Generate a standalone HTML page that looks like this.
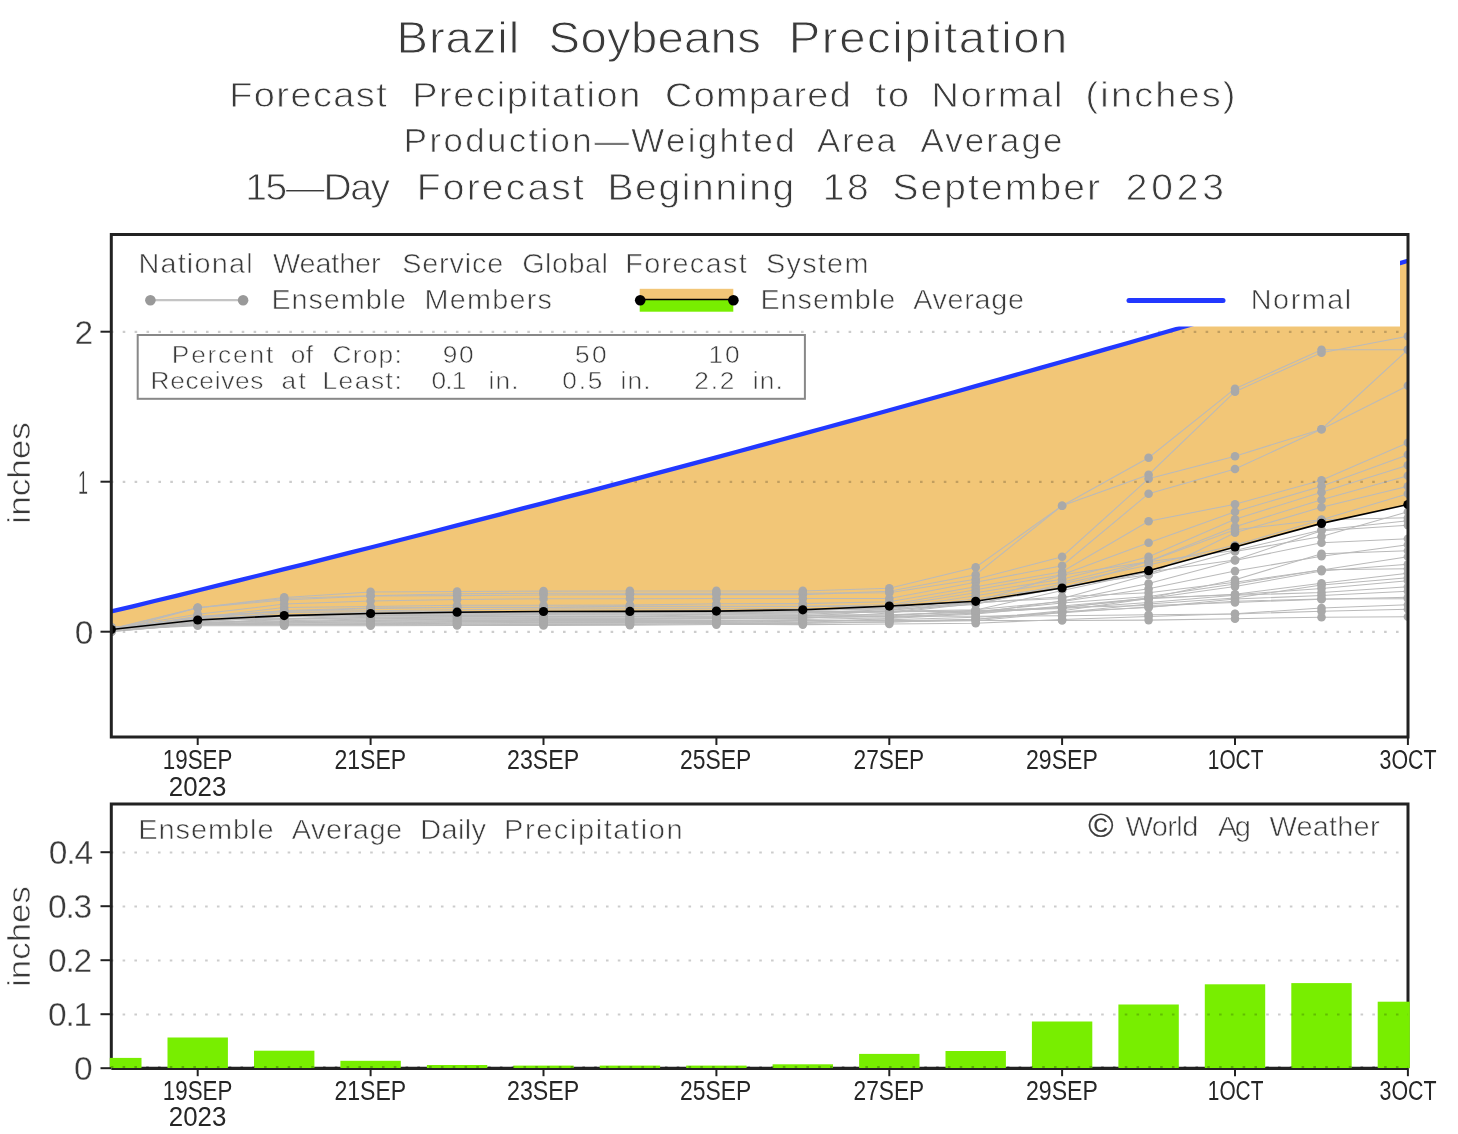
<!DOCTYPE html><html><head><meta charset="utf-8"><style>html,body{margin:0;padding:0;background:#fff;overflow:hidden}svg{display:block;will-change:transform}</style></head><body><svg width="1458" height="1134" viewBox="0 0 1458 1134" font-family="Liberation Sans, sans-serif">
<rect width="1458" height="1134" fill="#fff"/>
<text x="374.15" y="52.80" font-size="44.60" textLength="115.66" lengthAdjust="spacing" transform="scale(1.06,1)" fill="#3a3a3a" stroke="#fff" stroke-width="0.98">Brazil</text>
<text x="517.55" y="52.80" font-size="44.60" textLength="200.19" lengthAdjust="spacing" transform="scale(1.06,1)" fill="#3a3a3a" stroke="#fff" stroke-width="0.98">Soybeans</text>
<text x="744.15" y="52.80" font-size="44.60" textLength="262.83" lengthAdjust="spacing" transform="scale(1.06,1)" fill="#3a3a3a" stroke="#fff" stroke-width="0.98">Precipitation</text>
<text x="216.23" y="106.70" font-size="35.80" textLength="148.68" lengthAdjust="spacing" transform="scale(1.06,1)" fill="#3a3a3a" stroke="#fff" stroke-width="0.79">Forecast</text>
<text x="388.87" y="106.70" font-size="35.80" textLength="215.28" lengthAdjust="spacing" transform="scale(1.06,1)" fill="#3a3a3a" stroke="#fff" stroke-width="0.79">Precipitation</text>
<text x="627.36" y="106.70" font-size="35.80" textLength="175.28" lengthAdjust="spacing" transform="scale(1.06,1)" fill="#3a3a3a" stroke="#fff" stroke-width="0.79">Compared</text>
<text x="826.04" y="106.70" font-size="35.80" textLength="31.51" lengthAdjust="spacing" transform="scale(1.06,1)" fill="#3a3a3a" stroke="#fff" stroke-width="0.79">to</text>
<text x="878.87" y="106.70" font-size="35.80" textLength="123.40" lengthAdjust="spacing" transform="scale(1.06,1)" fill="#3a3a3a" stroke="#fff" stroke-width="0.79">Normal</text>
<text x="1024.15" y="106.70" font-size="35.80" textLength="141.32" lengthAdjust="spacing" transform="scale(1.06,1)" fill="#3a3a3a" stroke="#fff" stroke-width="0.79">(inches)</text>
<text x="380.94" y="152.40" font-size="32.90" textLength="368.68" lengthAdjust="spacing" transform="scale(1.06,1)" fill="#3a3a3a" stroke="#fff" stroke-width="0.72">Production—Weighted</text>
<text x="770.75" y="152.40" font-size="32.90" textLength="74.53" lengthAdjust="spacing" transform="scale(1.06,1)" fill="#3a3a3a" stroke="#fff" stroke-width="0.72">Area</text>
<text x="868.30" y="152.40" font-size="32.90" textLength="133.96" lengthAdjust="spacing" transform="scale(1.06,1)" fill="#3a3a3a" stroke="#fff" stroke-width="0.72">Average</text>
<text x="231.32" y="200.40" font-size="36.80" textLength="136.60" lengthAdjust="spacing" transform="scale(1.06,1)" fill="#3a3a3a" stroke="#fff" stroke-width="0.81">15—Day</text>
<text x="393.21" y="200.40" font-size="36.80" textLength="157.55" lengthAdjust="spacing" transform="scale(1.06,1)" fill="#3a3a3a" stroke="#fff" stroke-width="0.81">Forecast</text>
<text x="573.02" y="200.40" font-size="36.80" textLength="176.23" lengthAdjust="spacing" transform="scale(1.06,1)" fill="#3a3a3a" stroke="#fff" stroke-width="0.81">Beginning</text>
<text x="776.23" y="200.40" font-size="36.80" textLength="43.21" lengthAdjust="spacing" transform="scale(1.06,1)" fill="#3a3a3a" stroke="#fff" stroke-width="0.81">18</text>
<text x="841.89" y="200.40" font-size="36.80" textLength="195.85" lengthAdjust="spacing" transform="scale(1.06,1)" fill="#3a3a3a" stroke="#fff" stroke-width="0.81">September</text>
<text x="1062.08" y="200.40" font-size="36.80" textLength="92.64" lengthAdjust="spacing" transform="scale(1.06,1)" fill="#3a3a3a" stroke="#fff" stroke-width="0.81">2023</text>
<defs><clipPath id="cpt"><rect x="111.3" y="234.5" width="1296.7" height="502.5"/></clipPath><clipPath id="cpb"><rect x="111.3" y="804" width="1296.7" height="264.2"/></clipPath></defs>
<g clip-path="url(#cpt)">
<polygon fill="#F2C677" points="111.3,611.5 132.9,606.3 154.5,601.0 176.1,595.8 197.7,590.5 219.3,585.2 241.0,579.9 262.6,574.5 284.2,569.2 305.8,563.8 327.4,558.4 349.0,552.9 370.6,547.5 392.2,542.0 413.8,536.5 435.4,531.0 457.1,525.4 478.7,519.9 500.3,514.3 521.9,508.7 543.5,503.1 565.1,497.4 586.7,491.8 608.3,486.1 629.9,480.4 651.5,474.6 673.2,468.9 694.8,463.1 716.4,457.3 738.0,451.5 759.6,445.7 781.2,439.8 802.8,433.9 824.4,428.0 846.0,422.1 867.6,416.2 889.3,410.2 910.9,404.2 932.5,398.2 954.1,392.2 975.7,386.1 997.3,380.1 1018.9,374.0 1040.5,367.9 1062.1,361.7 1083.8,355.6 1105.4,349.4 1127.0,343.2 1148.6,337.0 1170.2,330.7 1191.8,324.5 1213.4,318.2 1235.0,311.9 1256.6,305.5 1278.2,299.2 1299.8,292.8 1321.5,286.4 1343.1,280.0 1364.7,273.6 1386.3,267.1 1407.9,260.7 1407.9,504.5 1321.5,523.4 1235.0,547.0 1148.6,570.7 1062.1,588.0 975.7,601.3 889.3,606.1 802.8,609.8 716.4,611.1 629.9,611.4 543.5,611.5 457.1,612.2 370.6,613.5 284.2,615.6 197.7,620.0 111.3,629.5"/>
<polyline fill="none" stroke="#bababa" stroke-width="1.05" points="111.3,628.7 197.7,607.7 284.2,597.4 370.6,591.9 457.1,591.5 543.5,591.1 629.9,590.9 716.4,590.9 802.8,590.9 889.3,588.2 975.7,567.2 1062.1,505.7 1148.6,474.7 1235.0,391.7 1321.5,352.7 1407.9,336.2"/>
<polyline fill="none" stroke="#bababa" stroke-width="1.05" points="111.3,631.4 197.7,607.7 284.2,600.1 370.6,596.0 457.1,595.6 543.5,594.9 629.9,594.6 716.4,594.6 802.8,594.6 889.3,591.2 975.7,574.7 1062.1,505.7 1148.6,457.7 1235.0,388.7 1321.5,349.7 1407.9,349.7"/>
<polyline fill="none" stroke="#bababa" stroke-width="1.05" points="111.3,629.6 197.7,607.7 284.2,598.5 370.6,595.7 457.1,593.7 543.5,593.2 629.9,593.2 716.4,593.2 802.8,593.2 889.3,592.7 975.7,579.2 1062.1,556.7 1148.6,478.7 1235.0,456.2 1321.5,429.2 1407.9,349.7"/>
<polyline fill="none" stroke="#bababa" stroke-width="1.05" points="111.3,628.3 197.7,614.3 284.2,604.1 370.6,601.0 457.1,599.5 543.5,598.8 629.9,598.8 716.4,598.5 802.8,598.5 889.3,598.5 975.7,582.2 1062.1,565.7 1148.6,493.7 1235.0,469.0 1321.5,429.2 1407.9,385.7"/>
<polyline fill="none" stroke="#bababa" stroke-width="1.05" points="111.3,628.4 197.7,617.4 284.2,607.6 370.6,606.6 457.1,605.3 543.5,605.3 629.9,605.1 716.4,603.7 802.8,603.6 889.3,601.7 975.7,586.7 1062.1,571.7 1148.6,521.2 1235.0,504.2 1321.5,480.2 1407.9,442.7"/>
<polyline fill="none" stroke="#bababa" stroke-width="1.05" points="111.3,627.7 197.7,617.9 284.2,610.6 370.6,607.9 457.1,607.4 543.5,607.4 629.9,606.3 716.4,606.3 802.8,606.3 889.3,604.7 975.7,589.7 1062.1,574.7 1148.6,542.8 1235.0,511.7 1321.5,486.2 1407.9,454.7"/>
<polyline fill="none" stroke="#bababa" stroke-width="1.05" points="111.3,630.2 197.7,617.1 284.2,611.6 370.6,608.6 457.1,607.2 543.5,607.2 629.9,606.7 716.4,606.7 802.8,606.4 889.3,606.2 975.7,592.7 1062.1,579.2 1148.6,556.7 1235.0,519.2 1321.5,492.2 1407.9,465.2"/>
<polyline fill="none" stroke="#bababa" stroke-width="1.05" points="111.3,629.5 197.7,616.3 284.2,610.9 370.6,610.7 457.1,609.7 543.5,609.0 629.9,608.7 716.4,608.7 802.8,608.7 889.3,608.7 975.7,595.7 1062.1,582.2 1148.6,561.2 1235.0,526.7 1321.5,499.7 1407.9,475.7"/>
<polyline fill="none" stroke="#bababa" stroke-width="1.05" points="111.3,627.5 197.7,620.4 284.2,612.6 370.6,611.9 457.1,611.6 543.5,611.5 629.9,611.5 716.4,611.5 802.8,609.7 889.3,609.7 975.7,598.7 1062.1,586.7 1148.6,574.7 1235.0,532.7 1321.5,507.2 1407.9,486.2"/>
<polyline fill="none" stroke="#bababa" stroke-width="1.05" points="111.3,630.6 197.7,622.2 284.2,620.8 370.6,619.1 457.1,618.7 543.5,618.7 629.9,618.7 716.4,617.7 802.8,617.7 889.3,615.9 975.7,610.1 1062.1,590.5 1148.6,572.1 1235.0,560.0 1321.5,530.7 1407.9,525.2"/>
<polyline fill="none" stroke="#bababa" stroke-width="1.05" points="111.3,631.6 197.7,624.2 284.2,622.8 370.6,622.1 457.1,621.6 543.5,621.3 629.9,620.9 716.4,620.9 802.8,620.8 889.3,619.8 975.7,617.3 1062.1,612.8 1148.6,607.1 1235.0,601.3 1321.5,599.0 1407.9,598.7"/>
<polyline fill="none" stroke="#bababa" stroke-width="1.05" points="111.3,631.6 197.7,618.5 284.2,616.8 370.6,615.6 457.1,615.6 543.5,615.0 629.9,614.9 716.4,614.3 802.8,614.3 889.3,611.2 975.7,609.8 1062.1,601.5 1148.6,588.7 1235.0,571.1 1321.5,556.3 1407.9,544.7"/>
<polyline fill="none" stroke="#bababa" stroke-width="1.05" points="111.3,628.3 197.7,622.3 284.2,621.8 370.6,620.5 457.1,619.9 543.5,619.5 629.9,619.5 716.4,618.9 802.8,618.4 889.3,612.9 975.7,603.4 1062.1,587.9 1148.6,561.4 1235.0,529.8 1321.5,519.7 1407.9,493.7"/>
<polyline fill="none" stroke="#bababa" stroke-width="1.05" points="111.3,629.7 197.7,625.0 284.2,625.0 370.6,625.0 457.1,624.7 543.5,624.5 629.9,624.4 716.4,623.5 802.8,623.5 889.3,621.8 975.7,620.7 1062.1,612.6 1148.6,604.1 1235.0,598.1 1321.5,585.1 1407.9,577.7"/>
<polyline fill="none" stroke="#bababa" stroke-width="1.05" points="111.3,629.1 197.7,624.2 284.2,624.2 370.6,623.4 457.1,622.9 543.5,622.4 629.9,622.4 716.4,622.4 802.8,621.0 889.3,621.0 975.7,619.2 1062.1,611.7 1148.6,607.4 1235.0,599.1 1321.5,595.5 1407.9,591.2"/>
<polyline fill="none" stroke="#bababa" stroke-width="1.05" points="111.3,628.1 197.7,620.7 284.2,618.9 370.6,618.7 457.1,618.0 543.5,618.0 629.9,618.0 716.4,617.4 802.8,616.4 889.3,610.4 975.7,601.8 1062.1,575.1 1148.6,561.8 1235.0,550.6 1321.5,529.9 1407.9,520.7"/>
<polyline fill="none" stroke="#bababa" stroke-width="1.05" points="111.3,630.7 197.7,620.4 284.2,615.7 370.6,614.7 457.1,614.1 543.5,613.5 629.9,612.9 716.4,612.9 802.8,612.9 889.3,611.9 975.7,602.5 1062.1,598.4 1148.6,574.7 1235.0,551.5 1321.5,536.6 1407.9,511.7"/>
<polyline fill="none" stroke="#bababa" stroke-width="1.05" points="111.3,631.6 197.7,624.2 284.2,622.2 370.6,621.5 457.1,620.6 543.5,620.6 629.9,620.6 716.4,620.6 802.8,619.6 889.3,617.8 975.7,612.9 1062.1,600.9 1148.6,583.6 1235.0,560.4 1321.5,542.8 1407.9,538.7"/>
<polyline fill="none" stroke="#bababa" stroke-width="1.05" points="111.3,629.6 197.7,623.4 284.2,619.6 370.6,617.3 457.1,616.6 543.5,616.6 629.9,616.6 716.4,616.3 802.8,615.4 889.3,614.7 975.7,611.7 1062.1,603.0 1148.6,596.5 1235.0,583.9 1321.5,569.8 1407.9,568.7"/>
<polyline fill="none" stroke="#bababa" stroke-width="1.05" points="111.3,628.1 197.7,622.6 284.2,621.6 370.6,620.0 457.1,619.3 543.5,618.8 629.9,618.8 716.4,618.6 802.8,617.6 889.3,616.8 975.7,612.9 1062.1,607.5 1148.6,598.8 1235.0,594.2 1321.5,583.3 1407.9,573.2"/>
<polyline fill="none" stroke="#bababa" stroke-width="1.05" points="111.3,628.8 197.7,617.1 284.2,615.1 370.6,612.3 457.1,611.8 543.5,611.3 629.9,611.3 716.4,610.8 802.8,610.8 889.3,607.9 975.7,602.9 1062.1,596.7 1148.6,592.7 1235.0,582.2 1321.5,569.9 1407.9,556.7"/>
<polyline fill="none" stroke="#bababa" stroke-width="1.05" points="111.3,629.5 197.7,624.2 284.2,624.1 370.6,624.1 457.1,623.3 543.5,623.3 629.9,623.2 716.4,622.3 802.8,622.3 889.3,622.3 975.7,619.5 1062.1,610.7 1148.6,598.6 1235.0,586.6 1321.5,571.1 1407.9,564.2"/>
<polyline fill="none" stroke="#bababa" stroke-width="1.05" points="111.3,627.4 197.7,622.1 284.2,616.2 370.6,614.0 457.1,613.4 543.5,612.9 629.9,612.7 716.4,612.6 802.8,611.7 889.3,611.7 975.7,611.3 1062.1,608.6 1148.6,602.6 1235.0,595.2 1321.5,592.6 1407.9,586.7"/>
<polyline fill="none" stroke="#bababa" stroke-width="1.05" points="111.3,627.3 197.7,620.2 284.2,616.5 370.6,615.6 457.1,614.7 543.5,614.4 629.9,614.1 716.4,614.1 802.8,612.7 889.3,609.8 975.7,604.6 1062.1,584.0 1148.6,565.0 1235.0,545.3 1321.5,519.7 1407.9,517.7"/>
<polyline fill="none" stroke="#bababa" stroke-width="1.05" points="111.3,629.5 197.7,624.4 284.2,624.4 370.6,624.4 457.1,624.2 543.5,623.9 629.9,623.9 716.4,623.6 802.8,622.5 889.3,618.5 975.7,613.9 1062.1,606.0 1148.6,598.3 1235.0,579.7 1321.5,553.8 1407.9,550.7"/>
<polyline fill="none" stroke="#bababa" stroke-width="1.05" points="111.3,629.9 197.7,625.7 284.2,625.7 370.6,625.7 457.1,625.4 543.5,625.4 629.9,625.2 716.4,624.6 802.8,624.6 889.3,624.0 975.7,623.2 1062.1,619.5 1148.6,616.5 1235.0,613.7 1321.5,608.1 1407.9,604.7"/>
<polyline fill="none" stroke="#bababa" stroke-width="1.05" points="111.3,630.0 197.7,624.2 284.2,623.3 370.6,622.7 457.1,622.2 543.5,621.8 629.9,621.5 716.4,621.4 802.8,620.4 889.3,620.4 975.7,620.4 1062.1,620.4 1148.6,620.1 1235.0,618.7 1321.5,617.2 1407.9,616.7"/>
<polyline fill="none" stroke="#bababa" stroke-width="1.05" points="111.3,630.3 197.7,619.0 284.2,618.5 370.6,616.3 457.1,615.9 543.5,615.9 629.9,615.9 716.4,614.9 802.8,614.9 889.3,614.9 975.7,612.0 1062.1,607.4 1148.6,598.1 1235.0,594.8 1321.5,588.4 1407.9,580.7"/>
<polyline fill="none" stroke="#bababa" stroke-width="1.05" points="111.3,631.6 197.7,623.7 284.2,618.7 370.6,617.7 457.1,617.2 543.5,617.2 629.9,616.9 716.4,616.2 802.8,616.2 889.3,616.2 975.7,616.2 1062.1,615.8 1148.6,614.8 1235.0,614.0 1321.5,611.2 1407.9,609.2"/>
<polyline fill="none" stroke="#bababa" stroke-width="1.05" points="111.3,629.1 197.7,621.3 284.2,615.7 370.6,613.6 457.1,612.5 543.5,612.0 629.9,611.6 716.4,611.6 802.8,611.6 889.3,611.6 975.7,610.7 1062.1,607.6 1148.6,605.5 1235.0,602.5 1321.5,599.2 1407.9,597.2"/>
<circle cx="111.3" cy="628.7" r="4.3" fill="#a9a9a9"/>
<circle cx="197.7" cy="607.7" r="4.3" fill="#a9a9a9"/>
<circle cx="284.2" cy="597.4" r="4.3" fill="#a9a9a9"/>
<circle cx="370.6" cy="591.9" r="4.3" fill="#a9a9a9"/>
<circle cx="457.1" cy="591.5" r="4.3" fill="#a9a9a9"/>
<circle cx="543.5" cy="591.1" r="4.3" fill="#a9a9a9"/>
<circle cx="629.9" cy="590.9" r="4.3" fill="#a9a9a9"/>
<circle cx="716.4" cy="590.9" r="4.3" fill="#a9a9a9"/>
<circle cx="802.8" cy="590.9" r="4.3" fill="#a9a9a9"/>
<circle cx="889.3" cy="588.2" r="4.3" fill="#a9a9a9"/>
<circle cx="975.7" cy="567.2" r="4.3" fill="#a9a9a9"/>
<circle cx="1062.1" cy="505.7" r="4.3" fill="#a9a9a9"/>
<circle cx="1148.6" cy="474.7" r="4.3" fill="#a9a9a9"/>
<circle cx="1235.0" cy="391.7" r="4.3" fill="#a9a9a9"/>
<circle cx="1321.5" cy="352.7" r="4.3" fill="#a9a9a9"/>
<circle cx="1407.9" cy="336.2" r="4.3" fill="#a9a9a9"/>
<circle cx="111.3" cy="631.4" r="4.3" fill="#a9a9a9"/>
<circle cx="197.7" cy="607.7" r="4.3" fill="#a9a9a9"/>
<circle cx="284.2" cy="600.1" r="4.3" fill="#a9a9a9"/>
<circle cx="370.6" cy="596.0" r="4.3" fill="#a9a9a9"/>
<circle cx="457.1" cy="595.6" r="4.3" fill="#a9a9a9"/>
<circle cx="543.5" cy="594.9" r="4.3" fill="#a9a9a9"/>
<circle cx="629.9" cy="594.6" r="4.3" fill="#a9a9a9"/>
<circle cx="716.4" cy="594.6" r="4.3" fill="#a9a9a9"/>
<circle cx="802.8" cy="594.6" r="4.3" fill="#a9a9a9"/>
<circle cx="889.3" cy="591.2" r="4.3" fill="#a9a9a9"/>
<circle cx="975.7" cy="574.7" r="4.3" fill="#a9a9a9"/>
<circle cx="1062.1" cy="505.7" r="4.3" fill="#a9a9a9"/>
<circle cx="1148.6" cy="457.7" r="4.3" fill="#a9a9a9"/>
<circle cx="1235.0" cy="388.7" r="4.3" fill="#a9a9a9"/>
<circle cx="1321.5" cy="349.7" r="4.3" fill="#a9a9a9"/>
<circle cx="1407.9" cy="349.7" r="4.3" fill="#a9a9a9"/>
<circle cx="111.3" cy="629.6" r="4.3" fill="#a9a9a9"/>
<circle cx="197.7" cy="607.7" r="4.3" fill="#a9a9a9"/>
<circle cx="284.2" cy="598.5" r="4.3" fill="#a9a9a9"/>
<circle cx="370.6" cy="595.7" r="4.3" fill="#a9a9a9"/>
<circle cx="457.1" cy="593.7" r="4.3" fill="#a9a9a9"/>
<circle cx="543.5" cy="593.2" r="4.3" fill="#a9a9a9"/>
<circle cx="629.9" cy="593.2" r="4.3" fill="#a9a9a9"/>
<circle cx="716.4" cy="593.2" r="4.3" fill="#a9a9a9"/>
<circle cx="802.8" cy="593.2" r="4.3" fill="#a9a9a9"/>
<circle cx="889.3" cy="592.7" r="4.3" fill="#a9a9a9"/>
<circle cx="975.7" cy="579.2" r="4.3" fill="#a9a9a9"/>
<circle cx="1062.1" cy="556.7" r="4.3" fill="#a9a9a9"/>
<circle cx="1148.6" cy="478.7" r="4.3" fill="#a9a9a9"/>
<circle cx="1235.0" cy="456.2" r="4.3" fill="#a9a9a9"/>
<circle cx="1321.5" cy="429.2" r="4.3" fill="#a9a9a9"/>
<circle cx="1407.9" cy="349.7" r="4.3" fill="#a9a9a9"/>
<circle cx="111.3" cy="628.3" r="4.3" fill="#a9a9a9"/>
<circle cx="197.7" cy="614.3" r="4.3" fill="#a9a9a9"/>
<circle cx="284.2" cy="604.1" r="4.3" fill="#a9a9a9"/>
<circle cx="370.6" cy="601.0" r="4.3" fill="#a9a9a9"/>
<circle cx="457.1" cy="599.5" r="4.3" fill="#a9a9a9"/>
<circle cx="543.5" cy="598.8" r="4.3" fill="#a9a9a9"/>
<circle cx="629.9" cy="598.8" r="4.3" fill="#a9a9a9"/>
<circle cx="716.4" cy="598.5" r="4.3" fill="#a9a9a9"/>
<circle cx="802.8" cy="598.5" r="4.3" fill="#a9a9a9"/>
<circle cx="889.3" cy="598.5" r="4.3" fill="#a9a9a9"/>
<circle cx="975.7" cy="582.2" r="4.3" fill="#a9a9a9"/>
<circle cx="1062.1" cy="565.7" r="4.3" fill="#a9a9a9"/>
<circle cx="1148.6" cy="493.7" r="4.3" fill="#a9a9a9"/>
<circle cx="1235.0" cy="469.0" r="4.3" fill="#a9a9a9"/>
<circle cx="1321.5" cy="429.2" r="4.3" fill="#a9a9a9"/>
<circle cx="1407.9" cy="385.7" r="4.3" fill="#a9a9a9"/>
<circle cx="111.3" cy="628.4" r="4.3" fill="#a9a9a9"/>
<circle cx="197.7" cy="617.4" r="4.3" fill="#a9a9a9"/>
<circle cx="284.2" cy="607.6" r="4.3" fill="#a9a9a9"/>
<circle cx="370.6" cy="606.6" r="4.3" fill="#a9a9a9"/>
<circle cx="457.1" cy="605.3" r="4.3" fill="#a9a9a9"/>
<circle cx="543.5" cy="605.3" r="4.3" fill="#a9a9a9"/>
<circle cx="629.9" cy="605.1" r="4.3" fill="#a9a9a9"/>
<circle cx="716.4" cy="603.7" r="4.3" fill="#a9a9a9"/>
<circle cx="802.8" cy="603.6" r="4.3" fill="#a9a9a9"/>
<circle cx="889.3" cy="601.7" r="4.3" fill="#a9a9a9"/>
<circle cx="975.7" cy="586.7" r="4.3" fill="#a9a9a9"/>
<circle cx="1062.1" cy="571.7" r="4.3" fill="#a9a9a9"/>
<circle cx="1148.6" cy="521.2" r="4.3" fill="#a9a9a9"/>
<circle cx="1235.0" cy="504.2" r="4.3" fill="#a9a9a9"/>
<circle cx="1321.5" cy="480.2" r="4.3" fill="#a9a9a9"/>
<circle cx="1407.9" cy="442.7" r="4.3" fill="#a9a9a9"/>
<circle cx="111.3" cy="627.7" r="4.3" fill="#a9a9a9"/>
<circle cx="197.7" cy="617.9" r="4.3" fill="#a9a9a9"/>
<circle cx="284.2" cy="610.6" r="4.3" fill="#a9a9a9"/>
<circle cx="370.6" cy="607.9" r="4.3" fill="#a9a9a9"/>
<circle cx="457.1" cy="607.4" r="4.3" fill="#a9a9a9"/>
<circle cx="543.5" cy="607.4" r="4.3" fill="#a9a9a9"/>
<circle cx="629.9" cy="606.3" r="4.3" fill="#a9a9a9"/>
<circle cx="716.4" cy="606.3" r="4.3" fill="#a9a9a9"/>
<circle cx="802.8" cy="606.3" r="4.3" fill="#a9a9a9"/>
<circle cx="889.3" cy="604.7" r="4.3" fill="#a9a9a9"/>
<circle cx="975.7" cy="589.7" r="4.3" fill="#a9a9a9"/>
<circle cx="1062.1" cy="574.7" r="4.3" fill="#a9a9a9"/>
<circle cx="1148.6" cy="542.8" r="4.3" fill="#a9a9a9"/>
<circle cx="1235.0" cy="511.7" r="4.3" fill="#a9a9a9"/>
<circle cx="1321.5" cy="486.2" r="4.3" fill="#a9a9a9"/>
<circle cx="1407.9" cy="454.7" r="4.3" fill="#a9a9a9"/>
<circle cx="111.3" cy="630.2" r="4.3" fill="#a9a9a9"/>
<circle cx="197.7" cy="617.1" r="4.3" fill="#a9a9a9"/>
<circle cx="284.2" cy="611.6" r="4.3" fill="#a9a9a9"/>
<circle cx="370.6" cy="608.6" r="4.3" fill="#a9a9a9"/>
<circle cx="457.1" cy="607.2" r="4.3" fill="#a9a9a9"/>
<circle cx="543.5" cy="607.2" r="4.3" fill="#a9a9a9"/>
<circle cx="629.9" cy="606.7" r="4.3" fill="#a9a9a9"/>
<circle cx="716.4" cy="606.7" r="4.3" fill="#a9a9a9"/>
<circle cx="802.8" cy="606.4" r="4.3" fill="#a9a9a9"/>
<circle cx="889.3" cy="606.2" r="4.3" fill="#a9a9a9"/>
<circle cx="975.7" cy="592.7" r="4.3" fill="#a9a9a9"/>
<circle cx="1062.1" cy="579.2" r="4.3" fill="#a9a9a9"/>
<circle cx="1148.6" cy="556.7" r="4.3" fill="#a9a9a9"/>
<circle cx="1235.0" cy="519.2" r="4.3" fill="#a9a9a9"/>
<circle cx="1321.5" cy="492.2" r="4.3" fill="#a9a9a9"/>
<circle cx="1407.9" cy="465.2" r="4.3" fill="#a9a9a9"/>
<circle cx="111.3" cy="629.5" r="4.3" fill="#a9a9a9"/>
<circle cx="197.7" cy="616.3" r="4.3" fill="#a9a9a9"/>
<circle cx="284.2" cy="610.9" r="4.3" fill="#a9a9a9"/>
<circle cx="370.6" cy="610.7" r="4.3" fill="#a9a9a9"/>
<circle cx="457.1" cy="609.7" r="4.3" fill="#a9a9a9"/>
<circle cx="543.5" cy="609.0" r="4.3" fill="#a9a9a9"/>
<circle cx="629.9" cy="608.7" r="4.3" fill="#a9a9a9"/>
<circle cx="716.4" cy="608.7" r="4.3" fill="#a9a9a9"/>
<circle cx="802.8" cy="608.7" r="4.3" fill="#a9a9a9"/>
<circle cx="889.3" cy="608.7" r="4.3" fill="#a9a9a9"/>
<circle cx="975.7" cy="595.7" r="4.3" fill="#a9a9a9"/>
<circle cx="1062.1" cy="582.2" r="4.3" fill="#a9a9a9"/>
<circle cx="1148.6" cy="561.2" r="4.3" fill="#a9a9a9"/>
<circle cx="1235.0" cy="526.7" r="4.3" fill="#a9a9a9"/>
<circle cx="1321.5" cy="499.7" r="4.3" fill="#a9a9a9"/>
<circle cx="1407.9" cy="475.7" r="4.3" fill="#a9a9a9"/>
<circle cx="111.3" cy="627.5" r="4.3" fill="#a9a9a9"/>
<circle cx="197.7" cy="620.4" r="4.3" fill="#a9a9a9"/>
<circle cx="284.2" cy="612.6" r="4.3" fill="#a9a9a9"/>
<circle cx="370.6" cy="611.9" r="4.3" fill="#a9a9a9"/>
<circle cx="457.1" cy="611.6" r="4.3" fill="#a9a9a9"/>
<circle cx="543.5" cy="611.5" r="4.3" fill="#a9a9a9"/>
<circle cx="629.9" cy="611.5" r="4.3" fill="#a9a9a9"/>
<circle cx="716.4" cy="611.5" r="4.3" fill="#a9a9a9"/>
<circle cx="802.8" cy="609.7" r="4.3" fill="#a9a9a9"/>
<circle cx="889.3" cy="609.7" r="4.3" fill="#a9a9a9"/>
<circle cx="975.7" cy="598.7" r="4.3" fill="#a9a9a9"/>
<circle cx="1062.1" cy="586.7" r="4.3" fill="#a9a9a9"/>
<circle cx="1148.6" cy="574.7" r="4.3" fill="#a9a9a9"/>
<circle cx="1235.0" cy="532.7" r="4.3" fill="#a9a9a9"/>
<circle cx="1321.5" cy="507.2" r="4.3" fill="#a9a9a9"/>
<circle cx="1407.9" cy="486.2" r="4.3" fill="#a9a9a9"/>
<circle cx="111.3" cy="630.6" r="4.3" fill="#a9a9a9"/>
<circle cx="197.7" cy="622.2" r="4.3" fill="#a9a9a9"/>
<circle cx="284.2" cy="620.8" r="4.3" fill="#a9a9a9"/>
<circle cx="370.6" cy="619.1" r="4.3" fill="#a9a9a9"/>
<circle cx="457.1" cy="618.7" r="4.3" fill="#a9a9a9"/>
<circle cx="543.5" cy="618.7" r="4.3" fill="#a9a9a9"/>
<circle cx="629.9" cy="618.7" r="4.3" fill="#a9a9a9"/>
<circle cx="716.4" cy="617.7" r="4.3" fill="#a9a9a9"/>
<circle cx="802.8" cy="617.7" r="4.3" fill="#a9a9a9"/>
<circle cx="889.3" cy="615.9" r="4.3" fill="#a9a9a9"/>
<circle cx="975.7" cy="610.1" r="4.3" fill="#a9a9a9"/>
<circle cx="1062.1" cy="590.5" r="4.3" fill="#a9a9a9"/>
<circle cx="1148.6" cy="572.1" r="4.3" fill="#a9a9a9"/>
<circle cx="1235.0" cy="560.0" r="4.3" fill="#a9a9a9"/>
<circle cx="1321.5" cy="530.7" r="4.3" fill="#a9a9a9"/>
<circle cx="1407.9" cy="525.2" r="4.3" fill="#a9a9a9"/>
<circle cx="111.3" cy="631.6" r="4.3" fill="#a9a9a9"/>
<circle cx="197.7" cy="624.2" r="4.3" fill="#a9a9a9"/>
<circle cx="284.2" cy="622.8" r="4.3" fill="#a9a9a9"/>
<circle cx="370.6" cy="622.1" r="4.3" fill="#a9a9a9"/>
<circle cx="457.1" cy="621.6" r="4.3" fill="#a9a9a9"/>
<circle cx="543.5" cy="621.3" r="4.3" fill="#a9a9a9"/>
<circle cx="629.9" cy="620.9" r="4.3" fill="#a9a9a9"/>
<circle cx="716.4" cy="620.9" r="4.3" fill="#a9a9a9"/>
<circle cx="802.8" cy="620.8" r="4.3" fill="#a9a9a9"/>
<circle cx="889.3" cy="619.8" r="4.3" fill="#a9a9a9"/>
<circle cx="975.7" cy="617.3" r="4.3" fill="#a9a9a9"/>
<circle cx="1062.1" cy="612.8" r="4.3" fill="#a9a9a9"/>
<circle cx="1148.6" cy="607.1" r="4.3" fill="#a9a9a9"/>
<circle cx="1235.0" cy="601.3" r="4.3" fill="#a9a9a9"/>
<circle cx="1321.5" cy="599.0" r="4.3" fill="#a9a9a9"/>
<circle cx="1407.9" cy="598.7" r="4.3" fill="#a9a9a9"/>
<circle cx="111.3" cy="631.6" r="4.3" fill="#a9a9a9"/>
<circle cx="197.7" cy="618.5" r="4.3" fill="#a9a9a9"/>
<circle cx="284.2" cy="616.8" r="4.3" fill="#a9a9a9"/>
<circle cx="370.6" cy="615.6" r="4.3" fill="#a9a9a9"/>
<circle cx="457.1" cy="615.6" r="4.3" fill="#a9a9a9"/>
<circle cx="543.5" cy="615.0" r="4.3" fill="#a9a9a9"/>
<circle cx="629.9" cy="614.9" r="4.3" fill="#a9a9a9"/>
<circle cx="716.4" cy="614.3" r="4.3" fill="#a9a9a9"/>
<circle cx="802.8" cy="614.3" r="4.3" fill="#a9a9a9"/>
<circle cx="889.3" cy="611.2" r="4.3" fill="#a9a9a9"/>
<circle cx="975.7" cy="609.8" r="4.3" fill="#a9a9a9"/>
<circle cx="1062.1" cy="601.5" r="4.3" fill="#a9a9a9"/>
<circle cx="1148.6" cy="588.7" r="4.3" fill="#a9a9a9"/>
<circle cx="1235.0" cy="571.1" r="4.3" fill="#a9a9a9"/>
<circle cx="1321.5" cy="556.3" r="4.3" fill="#a9a9a9"/>
<circle cx="1407.9" cy="544.7" r="4.3" fill="#a9a9a9"/>
<circle cx="111.3" cy="628.3" r="4.3" fill="#a9a9a9"/>
<circle cx="197.7" cy="622.3" r="4.3" fill="#a9a9a9"/>
<circle cx="284.2" cy="621.8" r="4.3" fill="#a9a9a9"/>
<circle cx="370.6" cy="620.5" r="4.3" fill="#a9a9a9"/>
<circle cx="457.1" cy="619.9" r="4.3" fill="#a9a9a9"/>
<circle cx="543.5" cy="619.5" r="4.3" fill="#a9a9a9"/>
<circle cx="629.9" cy="619.5" r="4.3" fill="#a9a9a9"/>
<circle cx="716.4" cy="618.9" r="4.3" fill="#a9a9a9"/>
<circle cx="802.8" cy="618.4" r="4.3" fill="#a9a9a9"/>
<circle cx="889.3" cy="612.9" r="4.3" fill="#a9a9a9"/>
<circle cx="975.7" cy="603.4" r="4.3" fill="#a9a9a9"/>
<circle cx="1062.1" cy="587.9" r="4.3" fill="#a9a9a9"/>
<circle cx="1148.6" cy="561.4" r="4.3" fill="#a9a9a9"/>
<circle cx="1235.0" cy="529.8" r="4.3" fill="#a9a9a9"/>
<circle cx="1321.5" cy="519.7" r="4.3" fill="#a9a9a9"/>
<circle cx="1407.9" cy="493.7" r="4.3" fill="#a9a9a9"/>
<circle cx="111.3" cy="629.7" r="4.3" fill="#a9a9a9"/>
<circle cx="197.7" cy="625.0" r="4.3" fill="#a9a9a9"/>
<circle cx="284.2" cy="625.0" r="4.3" fill="#a9a9a9"/>
<circle cx="370.6" cy="625.0" r="4.3" fill="#a9a9a9"/>
<circle cx="457.1" cy="624.7" r="4.3" fill="#a9a9a9"/>
<circle cx="543.5" cy="624.5" r="4.3" fill="#a9a9a9"/>
<circle cx="629.9" cy="624.4" r="4.3" fill="#a9a9a9"/>
<circle cx="716.4" cy="623.5" r="4.3" fill="#a9a9a9"/>
<circle cx="802.8" cy="623.5" r="4.3" fill="#a9a9a9"/>
<circle cx="889.3" cy="621.8" r="4.3" fill="#a9a9a9"/>
<circle cx="975.7" cy="620.7" r="4.3" fill="#a9a9a9"/>
<circle cx="1062.1" cy="612.6" r="4.3" fill="#a9a9a9"/>
<circle cx="1148.6" cy="604.1" r="4.3" fill="#a9a9a9"/>
<circle cx="1235.0" cy="598.1" r="4.3" fill="#a9a9a9"/>
<circle cx="1321.5" cy="585.1" r="4.3" fill="#a9a9a9"/>
<circle cx="1407.9" cy="577.7" r="4.3" fill="#a9a9a9"/>
<circle cx="111.3" cy="629.1" r="4.3" fill="#a9a9a9"/>
<circle cx="197.7" cy="624.2" r="4.3" fill="#a9a9a9"/>
<circle cx="284.2" cy="624.2" r="4.3" fill="#a9a9a9"/>
<circle cx="370.6" cy="623.4" r="4.3" fill="#a9a9a9"/>
<circle cx="457.1" cy="622.9" r="4.3" fill="#a9a9a9"/>
<circle cx="543.5" cy="622.4" r="4.3" fill="#a9a9a9"/>
<circle cx="629.9" cy="622.4" r="4.3" fill="#a9a9a9"/>
<circle cx="716.4" cy="622.4" r="4.3" fill="#a9a9a9"/>
<circle cx="802.8" cy="621.0" r="4.3" fill="#a9a9a9"/>
<circle cx="889.3" cy="621.0" r="4.3" fill="#a9a9a9"/>
<circle cx="975.7" cy="619.2" r="4.3" fill="#a9a9a9"/>
<circle cx="1062.1" cy="611.7" r="4.3" fill="#a9a9a9"/>
<circle cx="1148.6" cy="607.4" r="4.3" fill="#a9a9a9"/>
<circle cx="1235.0" cy="599.1" r="4.3" fill="#a9a9a9"/>
<circle cx="1321.5" cy="595.5" r="4.3" fill="#a9a9a9"/>
<circle cx="1407.9" cy="591.2" r="4.3" fill="#a9a9a9"/>
<circle cx="111.3" cy="628.1" r="4.3" fill="#a9a9a9"/>
<circle cx="197.7" cy="620.7" r="4.3" fill="#a9a9a9"/>
<circle cx="284.2" cy="618.9" r="4.3" fill="#a9a9a9"/>
<circle cx="370.6" cy="618.7" r="4.3" fill="#a9a9a9"/>
<circle cx="457.1" cy="618.0" r="4.3" fill="#a9a9a9"/>
<circle cx="543.5" cy="618.0" r="4.3" fill="#a9a9a9"/>
<circle cx="629.9" cy="618.0" r="4.3" fill="#a9a9a9"/>
<circle cx="716.4" cy="617.4" r="4.3" fill="#a9a9a9"/>
<circle cx="802.8" cy="616.4" r="4.3" fill="#a9a9a9"/>
<circle cx="889.3" cy="610.4" r="4.3" fill="#a9a9a9"/>
<circle cx="975.7" cy="601.8" r="4.3" fill="#a9a9a9"/>
<circle cx="1062.1" cy="575.1" r="4.3" fill="#a9a9a9"/>
<circle cx="1148.6" cy="561.8" r="4.3" fill="#a9a9a9"/>
<circle cx="1235.0" cy="550.6" r="4.3" fill="#a9a9a9"/>
<circle cx="1321.5" cy="529.9" r="4.3" fill="#a9a9a9"/>
<circle cx="1407.9" cy="520.7" r="4.3" fill="#a9a9a9"/>
<circle cx="111.3" cy="630.7" r="4.3" fill="#a9a9a9"/>
<circle cx="197.7" cy="620.4" r="4.3" fill="#a9a9a9"/>
<circle cx="284.2" cy="615.7" r="4.3" fill="#a9a9a9"/>
<circle cx="370.6" cy="614.7" r="4.3" fill="#a9a9a9"/>
<circle cx="457.1" cy="614.1" r="4.3" fill="#a9a9a9"/>
<circle cx="543.5" cy="613.5" r="4.3" fill="#a9a9a9"/>
<circle cx="629.9" cy="612.9" r="4.3" fill="#a9a9a9"/>
<circle cx="716.4" cy="612.9" r="4.3" fill="#a9a9a9"/>
<circle cx="802.8" cy="612.9" r="4.3" fill="#a9a9a9"/>
<circle cx="889.3" cy="611.9" r="4.3" fill="#a9a9a9"/>
<circle cx="975.7" cy="602.5" r="4.3" fill="#a9a9a9"/>
<circle cx="1062.1" cy="598.4" r="4.3" fill="#a9a9a9"/>
<circle cx="1148.6" cy="574.7" r="4.3" fill="#a9a9a9"/>
<circle cx="1235.0" cy="551.5" r="4.3" fill="#a9a9a9"/>
<circle cx="1321.5" cy="536.6" r="4.3" fill="#a9a9a9"/>
<circle cx="1407.9" cy="511.7" r="4.3" fill="#a9a9a9"/>
<circle cx="111.3" cy="631.6" r="4.3" fill="#a9a9a9"/>
<circle cx="197.7" cy="624.2" r="4.3" fill="#a9a9a9"/>
<circle cx="284.2" cy="622.2" r="4.3" fill="#a9a9a9"/>
<circle cx="370.6" cy="621.5" r="4.3" fill="#a9a9a9"/>
<circle cx="457.1" cy="620.6" r="4.3" fill="#a9a9a9"/>
<circle cx="543.5" cy="620.6" r="4.3" fill="#a9a9a9"/>
<circle cx="629.9" cy="620.6" r="4.3" fill="#a9a9a9"/>
<circle cx="716.4" cy="620.6" r="4.3" fill="#a9a9a9"/>
<circle cx="802.8" cy="619.6" r="4.3" fill="#a9a9a9"/>
<circle cx="889.3" cy="617.8" r="4.3" fill="#a9a9a9"/>
<circle cx="975.7" cy="612.9" r="4.3" fill="#a9a9a9"/>
<circle cx="1062.1" cy="600.9" r="4.3" fill="#a9a9a9"/>
<circle cx="1148.6" cy="583.6" r="4.3" fill="#a9a9a9"/>
<circle cx="1235.0" cy="560.4" r="4.3" fill="#a9a9a9"/>
<circle cx="1321.5" cy="542.8" r="4.3" fill="#a9a9a9"/>
<circle cx="1407.9" cy="538.7" r="4.3" fill="#a9a9a9"/>
<circle cx="111.3" cy="629.6" r="4.3" fill="#a9a9a9"/>
<circle cx="197.7" cy="623.4" r="4.3" fill="#a9a9a9"/>
<circle cx="284.2" cy="619.6" r="4.3" fill="#a9a9a9"/>
<circle cx="370.6" cy="617.3" r="4.3" fill="#a9a9a9"/>
<circle cx="457.1" cy="616.6" r="4.3" fill="#a9a9a9"/>
<circle cx="543.5" cy="616.6" r="4.3" fill="#a9a9a9"/>
<circle cx="629.9" cy="616.6" r="4.3" fill="#a9a9a9"/>
<circle cx="716.4" cy="616.3" r="4.3" fill="#a9a9a9"/>
<circle cx="802.8" cy="615.4" r="4.3" fill="#a9a9a9"/>
<circle cx="889.3" cy="614.7" r="4.3" fill="#a9a9a9"/>
<circle cx="975.7" cy="611.7" r="4.3" fill="#a9a9a9"/>
<circle cx="1062.1" cy="603.0" r="4.3" fill="#a9a9a9"/>
<circle cx="1148.6" cy="596.5" r="4.3" fill="#a9a9a9"/>
<circle cx="1235.0" cy="583.9" r="4.3" fill="#a9a9a9"/>
<circle cx="1321.5" cy="569.8" r="4.3" fill="#a9a9a9"/>
<circle cx="1407.9" cy="568.7" r="4.3" fill="#a9a9a9"/>
<circle cx="111.3" cy="628.1" r="4.3" fill="#a9a9a9"/>
<circle cx="197.7" cy="622.6" r="4.3" fill="#a9a9a9"/>
<circle cx="284.2" cy="621.6" r="4.3" fill="#a9a9a9"/>
<circle cx="370.6" cy="620.0" r="4.3" fill="#a9a9a9"/>
<circle cx="457.1" cy="619.3" r="4.3" fill="#a9a9a9"/>
<circle cx="543.5" cy="618.8" r="4.3" fill="#a9a9a9"/>
<circle cx="629.9" cy="618.8" r="4.3" fill="#a9a9a9"/>
<circle cx="716.4" cy="618.6" r="4.3" fill="#a9a9a9"/>
<circle cx="802.8" cy="617.6" r="4.3" fill="#a9a9a9"/>
<circle cx="889.3" cy="616.8" r="4.3" fill="#a9a9a9"/>
<circle cx="975.7" cy="612.9" r="4.3" fill="#a9a9a9"/>
<circle cx="1062.1" cy="607.5" r="4.3" fill="#a9a9a9"/>
<circle cx="1148.6" cy="598.8" r="4.3" fill="#a9a9a9"/>
<circle cx="1235.0" cy="594.2" r="4.3" fill="#a9a9a9"/>
<circle cx="1321.5" cy="583.3" r="4.3" fill="#a9a9a9"/>
<circle cx="1407.9" cy="573.2" r="4.3" fill="#a9a9a9"/>
<circle cx="111.3" cy="628.8" r="4.3" fill="#a9a9a9"/>
<circle cx="197.7" cy="617.1" r="4.3" fill="#a9a9a9"/>
<circle cx="284.2" cy="615.1" r="4.3" fill="#a9a9a9"/>
<circle cx="370.6" cy="612.3" r="4.3" fill="#a9a9a9"/>
<circle cx="457.1" cy="611.8" r="4.3" fill="#a9a9a9"/>
<circle cx="543.5" cy="611.3" r="4.3" fill="#a9a9a9"/>
<circle cx="629.9" cy="611.3" r="4.3" fill="#a9a9a9"/>
<circle cx="716.4" cy="610.8" r="4.3" fill="#a9a9a9"/>
<circle cx="802.8" cy="610.8" r="4.3" fill="#a9a9a9"/>
<circle cx="889.3" cy="607.9" r="4.3" fill="#a9a9a9"/>
<circle cx="975.7" cy="602.9" r="4.3" fill="#a9a9a9"/>
<circle cx="1062.1" cy="596.7" r="4.3" fill="#a9a9a9"/>
<circle cx="1148.6" cy="592.7" r="4.3" fill="#a9a9a9"/>
<circle cx="1235.0" cy="582.2" r="4.3" fill="#a9a9a9"/>
<circle cx="1321.5" cy="569.9" r="4.3" fill="#a9a9a9"/>
<circle cx="1407.9" cy="556.7" r="4.3" fill="#a9a9a9"/>
<circle cx="111.3" cy="629.5" r="4.3" fill="#a9a9a9"/>
<circle cx="197.7" cy="624.2" r="4.3" fill="#a9a9a9"/>
<circle cx="284.2" cy="624.1" r="4.3" fill="#a9a9a9"/>
<circle cx="370.6" cy="624.1" r="4.3" fill="#a9a9a9"/>
<circle cx="457.1" cy="623.3" r="4.3" fill="#a9a9a9"/>
<circle cx="543.5" cy="623.3" r="4.3" fill="#a9a9a9"/>
<circle cx="629.9" cy="623.2" r="4.3" fill="#a9a9a9"/>
<circle cx="716.4" cy="622.3" r="4.3" fill="#a9a9a9"/>
<circle cx="802.8" cy="622.3" r="4.3" fill="#a9a9a9"/>
<circle cx="889.3" cy="622.3" r="4.3" fill="#a9a9a9"/>
<circle cx="975.7" cy="619.5" r="4.3" fill="#a9a9a9"/>
<circle cx="1062.1" cy="610.7" r="4.3" fill="#a9a9a9"/>
<circle cx="1148.6" cy="598.6" r="4.3" fill="#a9a9a9"/>
<circle cx="1235.0" cy="586.6" r="4.3" fill="#a9a9a9"/>
<circle cx="1321.5" cy="571.1" r="4.3" fill="#a9a9a9"/>
<circle cx="1407.9" cy="564.2" r="4.3" fill="#a9a9a9"/>
<circle cx="111.3" cy="627.4" r="4.3" fill="#a9a9a9"/>
<circle cx="197.7" cy="622.1" r="4.3" fill="#a9a9a9"/>
<circle cx="284.2" cy="616.2" r="4.3" fill="#a9a9a9"/>
<circle cx="370.6" cy="614.0" r="4.3" fill="#a9a9a9"/>
<circle cx="457.1" cy="613.4" r="4.3" fill="#a9a9a9"/>
<circle cx="543.5" cy="612.9" r="4.3" fill="#a9a9a9"/>
<circle cx="629.9" cy="612.7" r="4.3" fill="#a9a9a9"/>
<circle cx="716.4" cy="612.6" r="4.3" fill="#a9a9a9"/>
<circle cx="802.8" cy="611.7" r="4.3" fill="#a9a9a9"/>
<circle cx="889.3" cy="611.7" r="4.3" fill="#a9a9a9"/>
<circle cx="975.7" cy="611.3" r="4.3" fill="#a9a9a9"/>
<circle cx="1062.1" cy="608.6" r="4.3" fill="#a9a9a9"/>
<circle cx="1148.6" cy="602.6" r="4.3" fill="#a9a9a9"/>
<circle cx="1235.0" cy="595.2" r="4.3" fill="#a9a9a9"/>
<circle cx="1321.5" cy="592.6" r="4.3" fill="#a9a9a9"/>
<circle cx="1407.9" cy="586.7" r="4.3" fill="#a9a9a9"/>
<circle cx="111.3" cy="627.3" r="4.3" fill="#a9a9a9"/>
<circle cx="197.7" cy="620.2" r="4.3" fill="#a9a9a9"/>
<circle cx="284.2" cy="616.5" r="4.3" fill="#a9a9a9"/>
<circle cx="370.6" cy="615.6" r="4.3" fill="#a9a9a9"/>
<circle cx="457.1" cy="614.7" r="4.3" fill="#a9a9a9"/>
<circle cx="543.5" cy="614.4" r="4.3" fill="#a9a9a9"/>
<circle cx="629.9" cy="614.1" r="4.3" fill="#a9a9a9"/>
<circle cx="716.4" cy="614.1" r="4.3" fill="#a9a9a9"/>
<circle cx="802.8" cy="612.7" r="4.3" fill="#a9a9a9"/>
<circle cx="889.3" cy="609.8" r="4.3" fill="#a9a9a9"/>
<circle cx="975.7" cy="604.6" r="4.3" fill="#a9a9a9"/>
<circle cx="1062.1" cy="584.0" r="4.3" fill="#a9a9a9"/>
<circle cx="1148.6" cy="565.0" r="4.3" fill="#a9a9a9"/>
<circle cx="1235.0" cy="545.3" r="4.3" fill="#a9a9a9"/>
<circle cx="1321.5" cy="519.7" r="4.3" fill="#a9a9a9"/>
<circle cx="1407.9" cy="517.7" r="4.3" fill="#a9a9a9"/>
<circle cx="111.3" cy="629.5" r="4.3" fill="#a9a9a9"/>
<circle cx="197.7" cy="624.4" r="4.3" fill="#a9a9a9"/>
<circle cx="284.2" cy="624.4" r="4.3" fill="#a9a9a9"/>
<circle cx="370.6" cy="624.4" r="4.3" fill="#a9a9a9"/>
<circle cx="457.1" cy="624.2" r="4.3" fill="#a9a9a9"/>
<circle cx="543.5" cy="623.9" r="4.3" fill="#a9a9a9"/>
<circle cx="629.9" cy="623.9" r="4.3" fill="#a9a9a9"/>
<circle cx="716.4" cy="623.6" r="4.3" fill="#a9a9a9"/>
<circle cx="802.8" cy="622.5" r="4.3" fill="#a9a9a9"/>
<circle cx="889.3" cy="618.5" r="4.3" fill="#a9a9a9"/>
<circle cx="975.7" cy="613.9" r="4.3" fill="#a9a9a9"/>
<circle cx="1062.1" cy="606.0" r="4.3" fill="#a9a9a9"/>
<circle cx="1148.6" cy="598.3" r="4.3" fill="#a9a9a9"/>
<circle cx="1235.0" cy="579.7" r="4.3" fill="#a9a9a9"/>
<circle cx="1321.5" cy="553.8" r="4.3" fill="#a9a9a9"/>
<circle cx="1407.9" cy="550.7" r="4.3" fill="#a9a9a9"/>
<circle cx="111.3" cy="629.9" r="4.3" fill="#a9a9a9"/>
<circle cx="197.7" cy="625.7" r="4.3" fill="#a9a9a9"/>
<circle cx="284.2" cy="625.7" r="4.3" fill="#a9a9a9"/>
<circle cx="370.6" cy="625.7" r="4.3" fill="#a9a9a9"/>
<circle cx="457.1" cy="625.4" r="4.3" fill="#a9a9a9"/>
<circle cx="543.5" cy="625.4" r="4.3" fill="#a9a9a9"/>
<circle cx="629.9" cy="625.2" r="4.3" fill="#a9a9a9"/>
<circle cx="716.4" cy="624.6" r="4.3" fill="#a9a9a9"/>
<circle cx="802.8" cy="624.6" r="4.3" fill="#a9a9a9"/>
<circle cx="889.3" cy="624.0" r="4.3" fill="#a9a9a9"/>
<circle cx="975.7" cy="623.2" r="4.3" fill="#a9a9a9"/>
<circle cx="1062.1" cy="619.5" r="4.3" fill="#a9a9a9"/>
<circle cx="1148.6" cy="616.5" r="4.3" fill="#a9a9a9"/>
<circle cx="1235.0" cy="613.7" r="4.3" fill="#a9a9a9"/>
<circle cx="1321.5" cy="608.1" r="4.3" fill="#a9a9a9"/>
<circle cx="1407.9" cy="604.7" r="4.3" fill="#a9a9a9"/>
<circle cx="111.3" cy="630.0" r="4.3" fill="#a9a9a9"/>
<circle cx="197.7" cy="624.2" r="4.3" fill="#a9a9a9"/>
<circle cx="284.2" cy="623.3" r="4.3" fill="#a9a9a9"/>
<circle cx="370.6" cy="622.7" r="4.3" fill="#a9a9a9"/>
<circle cx="457.1" cy="622.2" r="4.3" fill="#a9a9a9"/>
<circle cx="543.5" cy="621.8" r="4.3" fill="#a9a9a9"/>
<circle cx="629.9" cy="621.5" r="4.3" fill="#a9a9a9"/>
<circle cx="716.4" cy="621.4" r="4.3" fill="#a9a9a9"/>
<circle cx="802.8" cy="620.4" r="4.3" fill="#a9a9a9"/>
<circle cx="889.3" cy="620.4" r="4.3" fill="#a9a9a9"/>
<circle cx="975.7" cy="620.4" r="4.3" fill="#a9a9a9"/>
<circle cx="1062.1" cy="620.4" r="4.3" fill="#a9a9a9"/>
<circle cx="1148.6" cy="620.1" r="4.3" fill="#a9a9a9"/>
<circle cx="1235.0" cy="618.7" r="4.3" fill="#a9a9a9"/>
<circle cx="1321.5" cy="617.2" r="4.3" fill="#a9a9a9"/>
<circle cx="1407.9" cy="616.7" r="4.3" fill="#a9a9a9"/>
<circle cx="111.3" cy="630.3" r="4.3" fill="#a9a9a9"/>
<circle cx="197.7" cy="619.0" r="4.3" fill="#a9a9a9"/>
<circle cx="284.2" cy="618.5" r="4.3" fill="#a9a9a9"/>
<circle cx="370.6" cy="616.3" r="4.3" fill="#a9a9a9"/>
<circle cx="457.1" cy="615.9" r="4.3" fill="#a9a9a9"/>
<circle cx="543.5" cy="615.9" r="4.3" fill="#a9a9a9"/>
<circle cx="629.9" cy="615.9" r="4.3" fill="#a9a9a9"/>
<circle cx="716.4" cy="614.9" r="4.3" fill="#a9a9a9"/>
<circle cx="802.8" cy="614.9" r="4.3" fill="#a9a9a9"/>
<circle cx="889.3" cy="614.9" r="4.3" fill="#a9a9a9"/>
<circle cx="975.7" cy="612.0" r="4.3" fill="#a9a9a9"/>
<circle cx="1062.1" cy="607.4" r="4.3" fill="#a9a9a9"/>
<circle cx="1148.6" cy="598.1" r="4.3" fill="#a9a9a9"/>
<circle cx="1235.0" cy="594.8" r="4.3" fill="#a9a9a9"/>
<circle cx="1321.5" cy="588.4" r="4.3" fill="#a9a9a9"/>
<circle cx="1407.9" cy="580.7" r="4.3" fill="#a9a9a9"/>
<circle cx="111.3" cy="631.6" r="4.3" fill="#a9a9a9"/>
<circle cx="197.7" cy="623.7" r="4.3" fill="#a9a9a9"/>
<circle cx="284.2" cy="618.7" r="4.3" fill="#a9a9a9"/>
<circle cx="370.6" cy="617.7" r="4.3" fill="#a9a9a9"/>
<circle cx="457.1" cy="617.2" r="4.3" fill="#a9a9a9"/>
<circle cx="543.5" cy="617.2" r="4.3" fill="#a9a9a9"/>
<circle cx="629.9" cy="616.9" r="4.3" fill="#a9a9a9"/>
<circle cx="716.4" cy="616.2" r="4.3" fill="#a9a9a9"/>
<circle cx="802.8" cy="616.2" r="4.3" fill="#a9a9a9"/>
<circle cx="889.3" cy="616.2" r="4.3" fill="#a9a9a9"/>
<circle cx="975.7" cy="616.2" r="4.3" fill="#a9a9a9"/>
<circle cx="1062.1" cy="615.8" r="4.3" fill="#a9a9a9"/>
<circle cx="1148.6" cy="614.8" r="4.3" fill="#a9a9a9"/>
<circle cx="1235.0" cy="614.0" r="4.3" fill="#a9a9a9"/>
<circle cx="1321.5" cy="611.2" r="4.3" fill="#a9a9a9"/>
<circle cx="1407.9" cy="609.2" r="4.3" fill="#a9a9a9"/>
<circle cx="111.3" cy="629.1" r="4.3" fill="#a9a9a9"/>
<circle cx="197.7" cy="621.3" r="4.3" fill="#a9a9a9"/>
<circle cx="284.2" cy="615.7" r="4.3" fill="#a9a9a9"/>
<circle cx="370.6" cy="613.6" r="4.3" fill="#a9a9a9"/>
<circle cx="457.1" cy="612.5" r="4.3" fill="#a9a9a9"/>
<circle cx="543.5" cy="612.0" r="4.3" fill="#a9a9a9"/>
<circle cx="629.9" cy="611.6" r="4.3" fill="#a9a9a9"/>
<circle cx="716.4" cy="611.6" r="4.3" fill="#a9a9a9"/>
<circle cx="802.8" cy="611.6" r="4.3" fill="#a9a9a9"/>
<circle cx="889.3" cy="611.6" r="4.3" fill="#a9a9a9"/>
<circle cx="975.7" cy="610.7" r="4.3" fill="#a9a9a9"/>
<circle cx="1062.1" cy="607.6" r="4.3" fill="#a9a9a9"/>
<circle cx="1148.6" cy="605.5" r="4.3" fill="#a9a9a9"/>
<circle cx="1235.0" cy="602.5" r="4.3" fill="#a9a9a9"/>
<circle cx="1321.5" cy="599.2" r="4.3" fill="#a9a9a9"/>
<circle cx="1407.9" cy="597.2" r="4.3" fill="#a9a9a9"/>
<line x1="110.8" y1="631.9" x2="1408" y2="631.9" stroke="#000" stroke-opacity="0.2" stroke-width="2.2" stroke-dasharray="2.6 9.3"/>
<line x1="110.8" y1="481.9" x2="1408" y2="481.9" stroke="#000" stroke-opacity="0.2" stroke-width="2.2" stroke-dasharray="2.6 9.3"/>
<line x1="110.8" y1="331.9" x2="1408" y2="331.9" stroke="#000" stroke-opacity="0.2" stroke-width="2.2" stroke-dasharray="2.6 9.3"/>
<polyline fill="none" stroke="#000" stroke-width="1.6" points="111.3,629.5 197.7,620.0 284.2,615.6 370.6,613.5 457.1,612.2 543.5,611.5 629.9,611.4 716.4,611.1 802.8,609.8 889.3,606.1 975.7,601.3 1062.1,588.0 1148.6,570.7 1235.0,547.0 1321.5,523.4 1407.9,504.5"/>
<circle cx="111.3" cy="629.5" r="4.6" fill="#000"/>
<circle cx="197.7" cy="620.0" r="4.6" fill="#000"/>
<circle cx="284.2" cy="615.6" r="4.6" fill="#000"/>
<circle cx="370.6" cy="613.5" r="4.6" fill="#000"/>
<circle cx="457.1" cy="612.2" r="4.6" fill="#000"/>
<circle cx="543.5" cy="611.5" r="4.6" fill="#000"/>
<circle cx="629.9" cy="611.4" r="4.6" fill="#000"/>
<circle cx="716.4" cy="611.1" r="4.6" fill="#000"/>
<circle cx="802.8" cy="609.8" r="4.6" fill="#000"/>
<circle cx="889.3" cy="606.1" r="4.6" fill="#000"/>
<circle cx="975.7" cy="601.3" r="4.6" fill="#000"/>
<circle cx="1062.1" cy="588.0" r="4.6" fill="#000"/>
<circle cx="1148.6" cy="570.7" r="4.6" fill="#000"/>
<circle cx="1235.0" cy="547.0" r="4.6" fill="#000"/>
<circle cx="1321.5" cy="523.4" r="4.6" fill="#000"/>
<circle cx="1407.9" cy="504.5" r="4.6" fill="#000"/>
<polyline fill="none" stroke="#2238FF" stroke-width="4.3" stroke-linejoin="round" points="111.3,611.5 132.9,606.3 154.5,601.0 176.1,595.8 197.7,590.5 219.3,585.2 241.0,579.9 262.6,574.5 284.2,569.2 305.8,563.8 327.4,558.4 349.0,552.9 370.6,547.5 392.2,542.0 413.8,536.5 435.4,531.0 457.1,525.4 478.7,519.9 500.3,514.3 521.9,508.7 543.5,503.1 565.1,497.4 586.7,491.8 608.3,486.1 629.9,480.4 651.5,474.6 673.2,468.9 694.8,463.1 716.4,457.3 738.0,451.5 759.6,445.7 781.2,439.8 802.8,433.9 824.4,428.0 846.0,422.1 867.6,416.2 889.3,410.2 910.9,404.2 932.5,398.2 954.1,392.2 975.7,386.1 997.3,380.1 1018.9,374.0 1040.5,367.9 1062.1,361.7 1083.8,355.6 1105.4,349.4 1127.0,343.2 1148.6,337.0 1170.2,330.7 1191.8,324.5 1213.4,318.2 1235.0,311.9 1256.6,305.5 1278.2,299.2 1299.8,292.8 1321.5,286.4 1343.1,280.0 1364.7,273.6 1386.3,267.1 1407.9,260.7"/>
</g>
<rect x="112.8" y="236" width="1287.2" height="90.5" fill="#fff"/>
<text x="130.57" y="272.60" font-size="27.20" textLength="107.74" lengthAdjust="spacing" transform="scale(1.06,1)" fill="#3a3a3a" stroke="#fff" stroke-width="0.60">National</text>
<text x="257.55" y="272.60" font-size="27.20" textLength="101.51" lengthAdjust="spacing" transform="scale(1.06,1)" fill="#3a3a3a" stroke="#fff" stroke-width="0.60">Weather</text>
<text x="379.43" y="272.60" font-size="27.20" textLength="95.47" lengthAdjust="spacing" transform="scale(1.06,1)" fill="#3a3a3a" stroke="#fff" stroke-width="0.60">Service</text>
<text x="492.64" y="272.60" font-size="27.20" textLength="80.94" lengthAdjust="spacing" transform="scale(1.06,1)" fill="#3a3a3a" stroke="#fff" stroke-width="0.60">Global</text>
<text x="589.81" y="272.60" font-size="27.20" textLength="114.72" lengthAdjust="spacing" transform="scale(1.06,1)" fill="#3a3a3a" stroke="#fff" stroke-width="0.60">Forecast</text>
<text x="722.64" y="272.60" font-size="27.20" textLength="96.60" lengthAdjust="spacing" transform="scale(1.06,1)" fill="#3a3a3a" stroke="#fff" stroke-width="0.60">System</text>
<line x1="150.4" y1="300.2" x2="243.1" y2="300.2" stroke="#c4c4c4" stroke-width="2.2"/>
<circle cx="150.4" cy="300.2" r="5.3" fill="#999"/><circle cx="243.1" cy="300.2" r="5.3" fill="#999"/>
<text x="256.04" y="309.40" font-size="27.20" textLength="126.98" lengthAdjust="spacing" transform="scale(1.06,1)" fill="#3a3a3a" stroke="#fff" stroke-width="0.60">Ensemble</text>
<text x="400.57" y="309.40" font-size="27.20" textLength="120.19" lengthAdjust="spacing" transform="scale(1.06,1)" fill="#3a3a3a" stroke="#fff" stroke-width="0.60">Members</text>
<rect x="639.7" y="288.8" width="93.6" height="11" fill="#F2C677"/>
<rect x="639.7" y="299.7" width="93.6" height="12" fill="#78EE00"/>
<line x1="640.2" y1="299.5" x2="733.4" y2="299.5" stroke="#000" stroke-width="1.5"/>
<circle cx="640.2" cy="300.2" r="5.3" fill="#000"/><circle cx="733.4" cy="300.2" r="5.3" fill="#000"/>
<text x="717.36" y="309.40" font-size="27.20" textLength="127.17" lengthAdjust="spacing" transform="scale(1.06,1)" fill="#3a3a3a" stroke="#fff" stroke-width="0.60">Ensemble</text>
<text x="861.51" y="309.40" font-size="27.20" textLength="104.53" lengthAdjust="spacing" transform="scale(1.06,1)" fill="#3a3a3a" stroke="#fff" stroke-width="0.60">Average</text>
<line x1="1129" y1="300.5" x2="1223" y2="300.5" stroke="#2238FF" stroke-width="5" stroke-linecap="round"/>
<text x="1180.00" y="309.50" font-size="27.20" textLength="94.72" lengthAdjust="spacing" transform="scale(1.06,1)" fill="#3a3a3a" stroke="#fff" stroke-width="0.60">Normal</text>
<rect x="137.7" y="335" width="667.2" height="63.8" fill="#fff" stroke="#888" stroke-width="2"/>
<text x="162.08" y="362.70" font-size="24.80" textLength="95.66" lengthAdjust="spacing" transform="scale(1.06,1)" fill="#3a3a3a" stroke="#fff" stroke-width="0.55">Percent</text>
<text x="274.34" y="362.70" font-size="24.80" textLength="20.94" lengthAdjust="spacing" transform="scale(1.06,1)" fill="#3a3a3a" stroke="#fff" stroke-width="0.55">of</text>
<text x="313.77" y="362.70" font-size="24.80" textLength="65.28" lengthAdjust="spacing" transform="scale(1.06,1)" fill="#3a3a3a" stroke="#fff" stroke-width="0.55">Crop:</text>
<text x="417.74" y="362.70" font-size="24.80" textLength="29.06" lengthAdjust="spacing" transform="scale(1.06,1)" fill="#3a3a3a" stroke="#fff" stroke-width="0.55">90</text>
<text x="542.45" y="362.70" font-size="24.80" textLength="29.81" lengthAdjust="spacing" transform="scale(1.06,1)" fill="#3a3a3a" stroke="#fff" stroke-width="0.55">50</text>
<text x="668.49" y="362.70" font-size="24.80" textLength="29.25" lengthAdjust="spacing" transform="scale(1.06,1)" fill="#3a3a3a" stroke="#fff" stroke-width="0.55">10</text>
<text x="142.08" y="389.20" font-size="24.80" textLength="106.42" lengthAdjust="spacing" transform="scale(1.06,1)" fill="#3a3a3a" stroke="#fff" stroke-width="0.55">Receives</text>
<text x="265.66" y="389.20" font-size="24.80" textLength="22.83" lengthAdjust="spacing" transform="scale(1.06,1)" fill="#3a3a3a" stroke="#fff" stroke-width="0.55">at</text>
<text x="304.15" y="389.20" font-size="24.80" textLength="74.91" lengthAdjust="spacing" transform="scale(1.06,1)" fill="#3a3a3a" stroke="#fff" stroke-width="0.55">Least:</text>
<text x="406.98" y="389.20" font-size="24.80" textLength="33.02" lengthAdjust="spacing" transform="scale(1.06,1)" fill="#3a3a3a" stroke="#fff" stroke-width="0.55">0.1</text>
<text x="460.75" y="389.20" font-size="24.80" textLength="28.49" lengthAdjust="spacing" transform="scale(1.06,1)" fill="#3a3a3a" stroke="#fff" stroke-width="0.55">in.</text>
<text x="530.38" y="389.20" font-size="24.80" textLength="37.92" lengthAdjust="spacing" transform="scale(1.06,1)" fill="#3a3a3a" stroke="#fff" stroke-width="0.55">0.5</text>
<text x="585.28" y="389.20" font-size="24.80" textLength="28.49" lengthAdjust="spacing" transform="scale(1.06,1)" fill="#3a3a3a" stroke="#fff" stroke-width="0.55">in.</text>
<text x="654.91" y="389.20" font-size="24.80" textLength="37.92" lengthAdjust="spacing" transform="scale(1.06,1)" fill="#3a3a3a" stroke="#fff" stroke-width="0.55">2.2</text>
<text x="710.19" y="389.20" font-size="24.80" textLength="28.30" lengthAdjust="spacing" transform="scale(1.06,1)" fill="#3a3a3a" stroke="#fff" stroke-width="0.55">in.</text>
<rect x="111.3" y="234.5" width="1296.7" height="502.5" fill="none" stroke="#222" stroke-width="3"/>
<line x1="100.5" y1="331.7" x2="111" y2="331.7" stroke="#222" stroke-width="2"/>
<text x="74.60" y="343.60" font-size="33.50" fill="#3a3a3a" stroke="#fff" stroke-width="0.35">2</text>
<line x1="100.5" y1="481.7" x2="111" y2="481.7" stroke="#222" stroke-width="2"/>
<text x="78.00" y="493.50" font-size="33.50" textLength="10.00" lengthAdjust="spacingAndGlyphs" fill="#3a3a3a" stroke="#fff" stroke-width="0.35">1</text>
<line x1="100.5" y1="631.7" x2="111" y2="631.7" stroke="#222" stroke-width="2"/>
<text x="74.70" y="643.90" font-size="33.50" fill="#3a3a3a" stroke="#fff" stroke-width="0.35">0</text>
<text x="0" y="0" font-size="31" fill="#3a3a3a" stroke="#fff" stroke-width="0.6" text-anchor="middle" transform="translate(29.8,472.9) rotate(-90)" textLength="101.5" lengthAdjust="spacingAndGlyphs">inches</text>
<line x1="197.7" y1="737.0" x2="197.7" y2="745.0" stroke="#222" stroke-width="2"/>
<text x="162.80" y="769.40" font-size="26.80" textLength="69.60" lengthAdjust="spacingAndGlyphs" fill="#262626" stroke="#fff" stroke-width="0.00">19SEP</text>
<line x1="370.6" y1="737.0" x2="370.6" y2="745.0" stroke="#222" stroke-width="2"/>
<text x="334.40" y="769.40" font-size="26.80" textLength="71.80" lengthAdjust="spacingAndGlyphs" fill="#262626" stroke="#fff" stroke-width="0.00">21SEP</text>
<line x1="543.5" y1="737.0" x2="543.5" y2="745.0" stroke="#222" stroke-width="2"/>
<text x="507.00" y="769.40" font-size="26.80" textLength="72.20" lengthAdjust="spacingAndGlyphs" fill="#262626" stroke="#fff" stroke-width="0.00">23SEP</text>
<line x1="716.4" y1="737.0" x2="716.4" y2="745.0" stroke="#222" stroke-width="2"/>
<text x="680.00" y="769.40" font-size="26.80" textLength="71.20" lengthAdjust="spacingAndGlyphs" fill="#262626" stroke="#fff" stroke-width="0.00">25SEP</text>
<line x1="889.3" y1="737.0" x2="889.3" y2="745.0" stroke="#222" stroke-width="2"/>
<text x="853.60" y="769.40" font-size="26.80" textLength="70.60" lengthAdjust="spacingAndGlyphs" fill="#262626" stroke="#fff" stroke-width="0.00">27SEP</text>
<line x1="1062.1" y1="737.0" x2="1062.1" y2="745.0" stroke="#222" stroke-width="2"/>
<text x="1026.00" y="769.40" font-size="26.80" textLength="71.80" lengthAdjust="spacingAndGlyphs" fill="#262626" stroke="#fff" stroke-width="0.00">29SEP</text>
<line x1="1235.0" y1="737.0" x2="1235.0" y2="745.0" stroke="#222" stroke-width="2"/>
<text x="1207.80" y="769.40" font-size="26.80" textLength="55.60" lengthAdjust="spacingAndGlyphs" fill="#262626" stroke="#fff" stroke-width="0.00">1OCT</text>
<line x1="1407.9" y1="737.0" x2="1407.9" y2="745.0" stroke="#222" stroke-width="2"/>
<text x="1379.60" y="769.40" font-size="26.80" textLength="57.00" lengthAdjust="spacingAndGlyphs" fill="#262626" stroke="#fff" stroke-width="0.00">3OCT</text>
<text x="168.80" y="795.60" font-size="26.80" textLength="57.60" lengthAdjust="spacingAndGlyphs" fill="#262626" stroke="#fff" stroke-width="0.00">2023</text>
<line x1="111.3" y1="1068.3" x2="1408" y2="1068.3" stroke="#222" stroke-width="3.2"/>
<path d="M111.3,1068.2 V804 H1408 V1068.2" fill="none" stroke="#222" stroke-width="3"/>
<defs><clipPath id="cpb2"><rect x="109.8" y="800" width="1300" height="268"/></clipPath></defs>
<g clip-path="url(#cpb2)">
<rect x="81.1" y="1057.9" width="60.4" height="10.1" fill="#78EE00"/>
<rect x="167.5" y="1037.5" width="60.4" height="30.5" fill="#78EE00"/>
<rect x="254.0" y="1050.7" width="60.4" height="17.3" fill="#78EE00"/>
<rect x="340.4" y="1060.8" width="60.4" height="7.2" fill="#78EE00"/>
<rect x="426.9" y="1065.0" width="60.4" height="3.0" fill="#78EE00"/>
<rect x="513.3" y="1065.6" width="60.4" height="2.4" fill="#78EE00"/>
<rect x="599.7" y="1065.6" width="60.4" height="2.4" fill="#78EE00"/>
<rect x="686.2" y="1065.6" width="60.4" height="2.4" fill="#78EE00"/>
<rect x="772.6" y="1064.3" width="60.4" height="3.7" fill="#78EE00"/>
<rect x="859.1" y="1053.9" width="60.4" height="14.1" fill="#78EE00"/>
<rect x="945.5" y="1051.0" width="60.4" height="17.0" fill="#78EE00"/>
<rect x="1031.9" y="1021.5" width="60.4" height="46.5" fill="#78EE00"/>
<rect x="1118.4" y="1004.5" width="60.4" height="63.5" fill="#78EE00"/>
<rect x="1204.8" y="984.3" width="60.4" height="83.7" fill="#78EE00"/>
<rect x="1291.3" y="983.1" width="60.4" height="84.9" fill="#78EE00"/>
<rect x="1377.7" y="1001.7" width="60.4" height="66.3" fill="#78EE00"/>
</g>
<line x1="110.8" y1="1014.5" x2="1408" y2="1014.5" stroke="#000" stroke-opacity="0.2" stroke-width="2.2" stroke-dasharray="2.6 9.19"/>
<line x1="110.8" y1="960.5" x2="1408" y2="960.5" stroke="#000" stroke-opacity="0.2" stroke-width="2.2" stroke-dasharray="2.6 9.19"/>
<line x1="110.8" y1="906.5" x2="1408" y2="906.5" stroke="#000" stroke-opacity="0.2" stroke-width="2.2" stroke-dasharray="2.6 9.19"/>
<line x1="110.8" y1="852.5" x2="1408" y2="852.5" stroke="#000" stroke-opacity="0.2" stroke-width="2.2" stroke-dasharray="2.6 9.19"/>
<line x1="110.8" y1="1067.0" x2="1408" y2="1067.0" stroke="#000" stroke-opacity="0.35" stroke-width="1.6" stroke-dasharray="2.6 9.19"/>
<text x="130.38" y="838.60" font-size="27.40" textLength="127.74" lengthAdjust="spacing" transform="scale(1.06,1)" fill="#3a3a3a" stroke="#fff" stroke-width="0.60">Ensemble</text>
<text x="275.28" y="838.60" font-size="27.40" textLength="104.15" lengthAdjust="spacing" transform="scale(1.06,1)" fill="#3a3a3a" stroke="#fff" stroke-width="0.60">Average</text>
<text x="396.42" y="838.60" font-size="27.40" textLength="62.08" lengthAdjust="spacing" transform="scale(1.06,1)" fill="#3a3a3a" stroke="#fff" stroke-width="0.60">Daily</text>
<text x="475.47" y="838.60" font-size="27.40" textLength="168.49" lengthAdjust="spacing" transform="scale(1.06,1)" fill="#3a3a3a" stroke="#fff" stroke-width="0.60">Precipitation</text>
<text x="1061.70" y="836.20" font-size="27.40" textLength="68.87" lengthAdjust="spacing" transform="scale(1.06,1)" fill="#3a3a3a" stroke="#fff" stroke-width="0.60">World</text>
<text x="1149.06" y="836.20" font-size="27.40" textLength="30.94" lengthAdjust="spacing" transform="scale(1.06,1)" fill="#3a3a3a" stroke="#fff" stroke-width="0.60">Ag</text>
<text x="1197.55" y="836.20" font-size="27.40" textLength="103.96" lengthAdjust="spacing" transform="scale(1.06,1)" fill="#3a3a3a" stroke="#fff" stroke-width="0.60">Weather</text>
<text x="1026.56" y="837.40" font-size="32.50" transform="scale(1.06,1)" fill="#3c3c3c" stroke="#3c3c3c" stroke-width="0.15">©</text>
<line x1="100.5" y1="852.2" x2="111" y2="852.2" stroke="#222" stroke-width="2"/>
<text x="48.80" y="864.30" font-size="33.50" textLength="44.40" lengthAdjust="spacing" fill="#3a3a3a" stroke="#fff" stroke-width="0.35">0.4</text>
<line x1="100.5" y1="906.2" x2="111" y2="906.2" stroke="#222" stroke-width="2"/>
<text x="48.00" y="918.40" font-size="33.50" textLength="44.20" lengthAdjust="spacing" fill="#3a3a3a" stroke="#fff" stroke-width="0.35">0.3</text>
<line x1="100.5" y1="960.2" x2="111" y2="960.2" stroke="#222" stroke-width="2"/>
<text x="48.00" y="972.30" font-size="33.50" textLength="44.20" lengthAdjust="spacing" fill="#3a3a3a" stroke="#fff" stroke-width="0.35">0.2</text>
<line x1="100.5" y1="1014.2" x2="111" y2="1014.2" stroke="#222" stroke-width="2"/>
<text x="48.00" y="1026.00" font-size="33.50" textLength="44.20" lengthAdjust="spacing" fill="#3a3a3a" stroke="#fff" stroke-width="0.35">0.1</text>
<line x1="100.5" y1="1068.2" x2="111" y2="1068.2" stroke="#222" stroke-width="2"/>
<text x="74.05" y="1079.70" font-size="33.50" fill="#3a3a3a" stroke="#fff" stroke-width="0.35">0</text>
<text x="0" y="0" font-size="31" fill="#3a3a3a" stroke="#fff" stroke-width="0.6" text-anchor="middle" transform="translate(29.8,936.5) rotate(-90)" textLength="101" lengthAdjust="spacingAndGlyphs">inches</text>
<line x1="197.7" y1="1068.2" x2="197.7" y2="1076.2" stroke="#222" stroke-width="2"/>
<text x="162.80" y="1100.20" font-size="26.80" textLength="69.60" lengthAdjust="spacingAndGlyphs" fill="#262626" stroke="#fff" stroke-width="0.00">19SEP</text>
<line x1="370.6" y1="1068.2" x2="370.6" y2="1076.2" stroke="#222" stroke-width="2"/>
<text x="334.40" y="1100.20" font-size="26.80" textLength="71.80" lengthAdjust="spacingAndGlyphs" fill="#262626" stroke="#fff" stroke-width="0.00">21SEP</text>
<line x1="543.5" y1="1068.2" x2="543.5" y2="1076.2" stroke="#222" stroke-width="2"/>
<text x="507.00" y="1100.20" font-size="26.80" textLength="72.20" lengthAdjust="spacingAndGlyphs" fill="#262626" stroke="#fff" stroke-width="0.00">23SEP</text>
<line x1="716.4" y1="1068.2" x2="716.4" y2="1076.2" stroke="#222" stroke-width="2"/>
<text x="680.00" y="1100.20" font-size="26.80" textLength="71.20" lengthAdjust="spacingAndGlyphs" fill="#262626" stroke="#fff" stroke-width="0.00">25SEP</text>
<line x1="889.3" y1="1068.2" x2="889.3" y2="1076.2" stroke="#222" stroke-width="2"/>
<text x="853.60" y="1100.20" font-size="26.80" textLength="70.60" lengthAdjust="spacingAndGlyphs" fill="#262626" stroke="#fff" stroke-width="0.00">27SEP</text>
<line x1="1062.1" y1="1068.2" x2="1062.1" y2="1076.2" stroke="#222" stroke-width="2"/>
<text x="1026.00" y="1100.20" font-size="26.80" textLength="71.80" lengthAdjust="spacingAndGlyphs" fill="#262626" stroke="#fff" stroke-width="0.00">29SEP</text>
<line x1="1235.0" y1="1068.2" x2="1235.0" y2="1076.2" stroke="#222" stroke-width="2"/>
<text x="1207.80" y="1100.20" font-size="26.80" textLength="55.60" lengthAdjust="spacingAndGlyphs" fill="#262626" stroke="#fff" stroke-width="0.00">1OCT</text>
<line x1="1407.9" y1="1068.2" x2="1407.9" y2="1076.2" stroke="#222" stroke-width="2"/>
<text x="1379.60" y="1100.20" font-size="26.80" textLength="57.00" lengthAdjust="spacingAndGlyphs" fill="#262626" stroke="#fff" stroke-width="0.00">3OCT</text>
<text x="168.80" y="1125.50" font-size="26.80" textLength="57.60" lengthAdjust="spacingAndGlyphs" fill="#262626" stroke="#fff" stroke-width="0.00">2023</text>
</svg></body></html>
